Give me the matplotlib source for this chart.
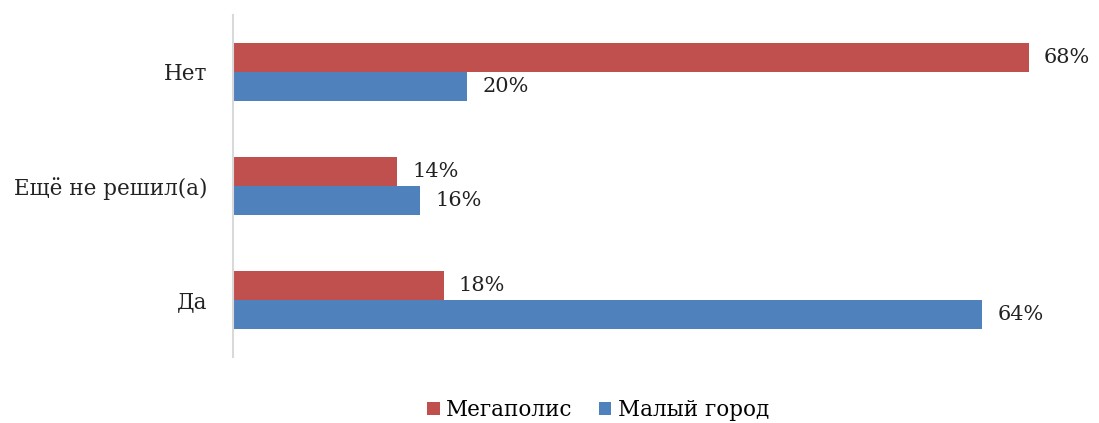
import numpy as np
import matplotlib.pyplot as plt

categories = ['Да', 'Ещё не решил(а)', 'Нет']
megapolis = [18, 14, 68]
small_town = [64, 16, 20]
series_names = ['Мегаполис', 'Малый город']

plt.rcParams['font.family'] = ['DejaVu Serif']

fig = plt.figure(figsize=(10.99, 4.23), dpi=100)
ax = fig.add_axes([233/1099, 1-357/423, (1085-233)/1099, (357-15)/423])

y = np.arange(len(categories))
h = 0.256
red = '#C0504D'
blue = '#4F81BD'

b1 = ax.barh(y + h/2, megapolis, height=h, color=red, label=series_names[0])
b2 = ax.barh(y - h/2, small_town, height=h, color=blue, label=series_names[1])

for bars, vals in [(b1, megapolis), (b2, small_town)]:
    for bar, v in zip(bars, vals):
        ax.text(v + 1.3, bar.get_y() + bar.get_height()/2, f'{v}%',
                va='center', ha='left', fontsize=15, color='#222222')

ax.set_ylim(-0.5, 2.5)
ax.set_xlim(0, 72.8)
ax.set_yticks(y)
ax.set_yticklabels(categories, fontsize=15.5, color='#222222')
ax.tick_params(axis='y', length=0, pad=18.5)
ax.set_xticks([])

for s in ['top', 'right', 'bottom']:
    ax.spines[s].set_visible(False)
ax.spines['left'].set_color('#D9D9D9')
ax.spines['left'].set_linewidth(1.5)

fig.legend(loc='center', bbox_to_anchor=(598/1099, 1-410/423), ncol=2,
           frameon=False, fontsize=15.5, handlelength=0.6, handleheight=0.6,
           handletextpad=0.3, columnspacing=1.2)

fig.savefig('out.png', dpi=100)
